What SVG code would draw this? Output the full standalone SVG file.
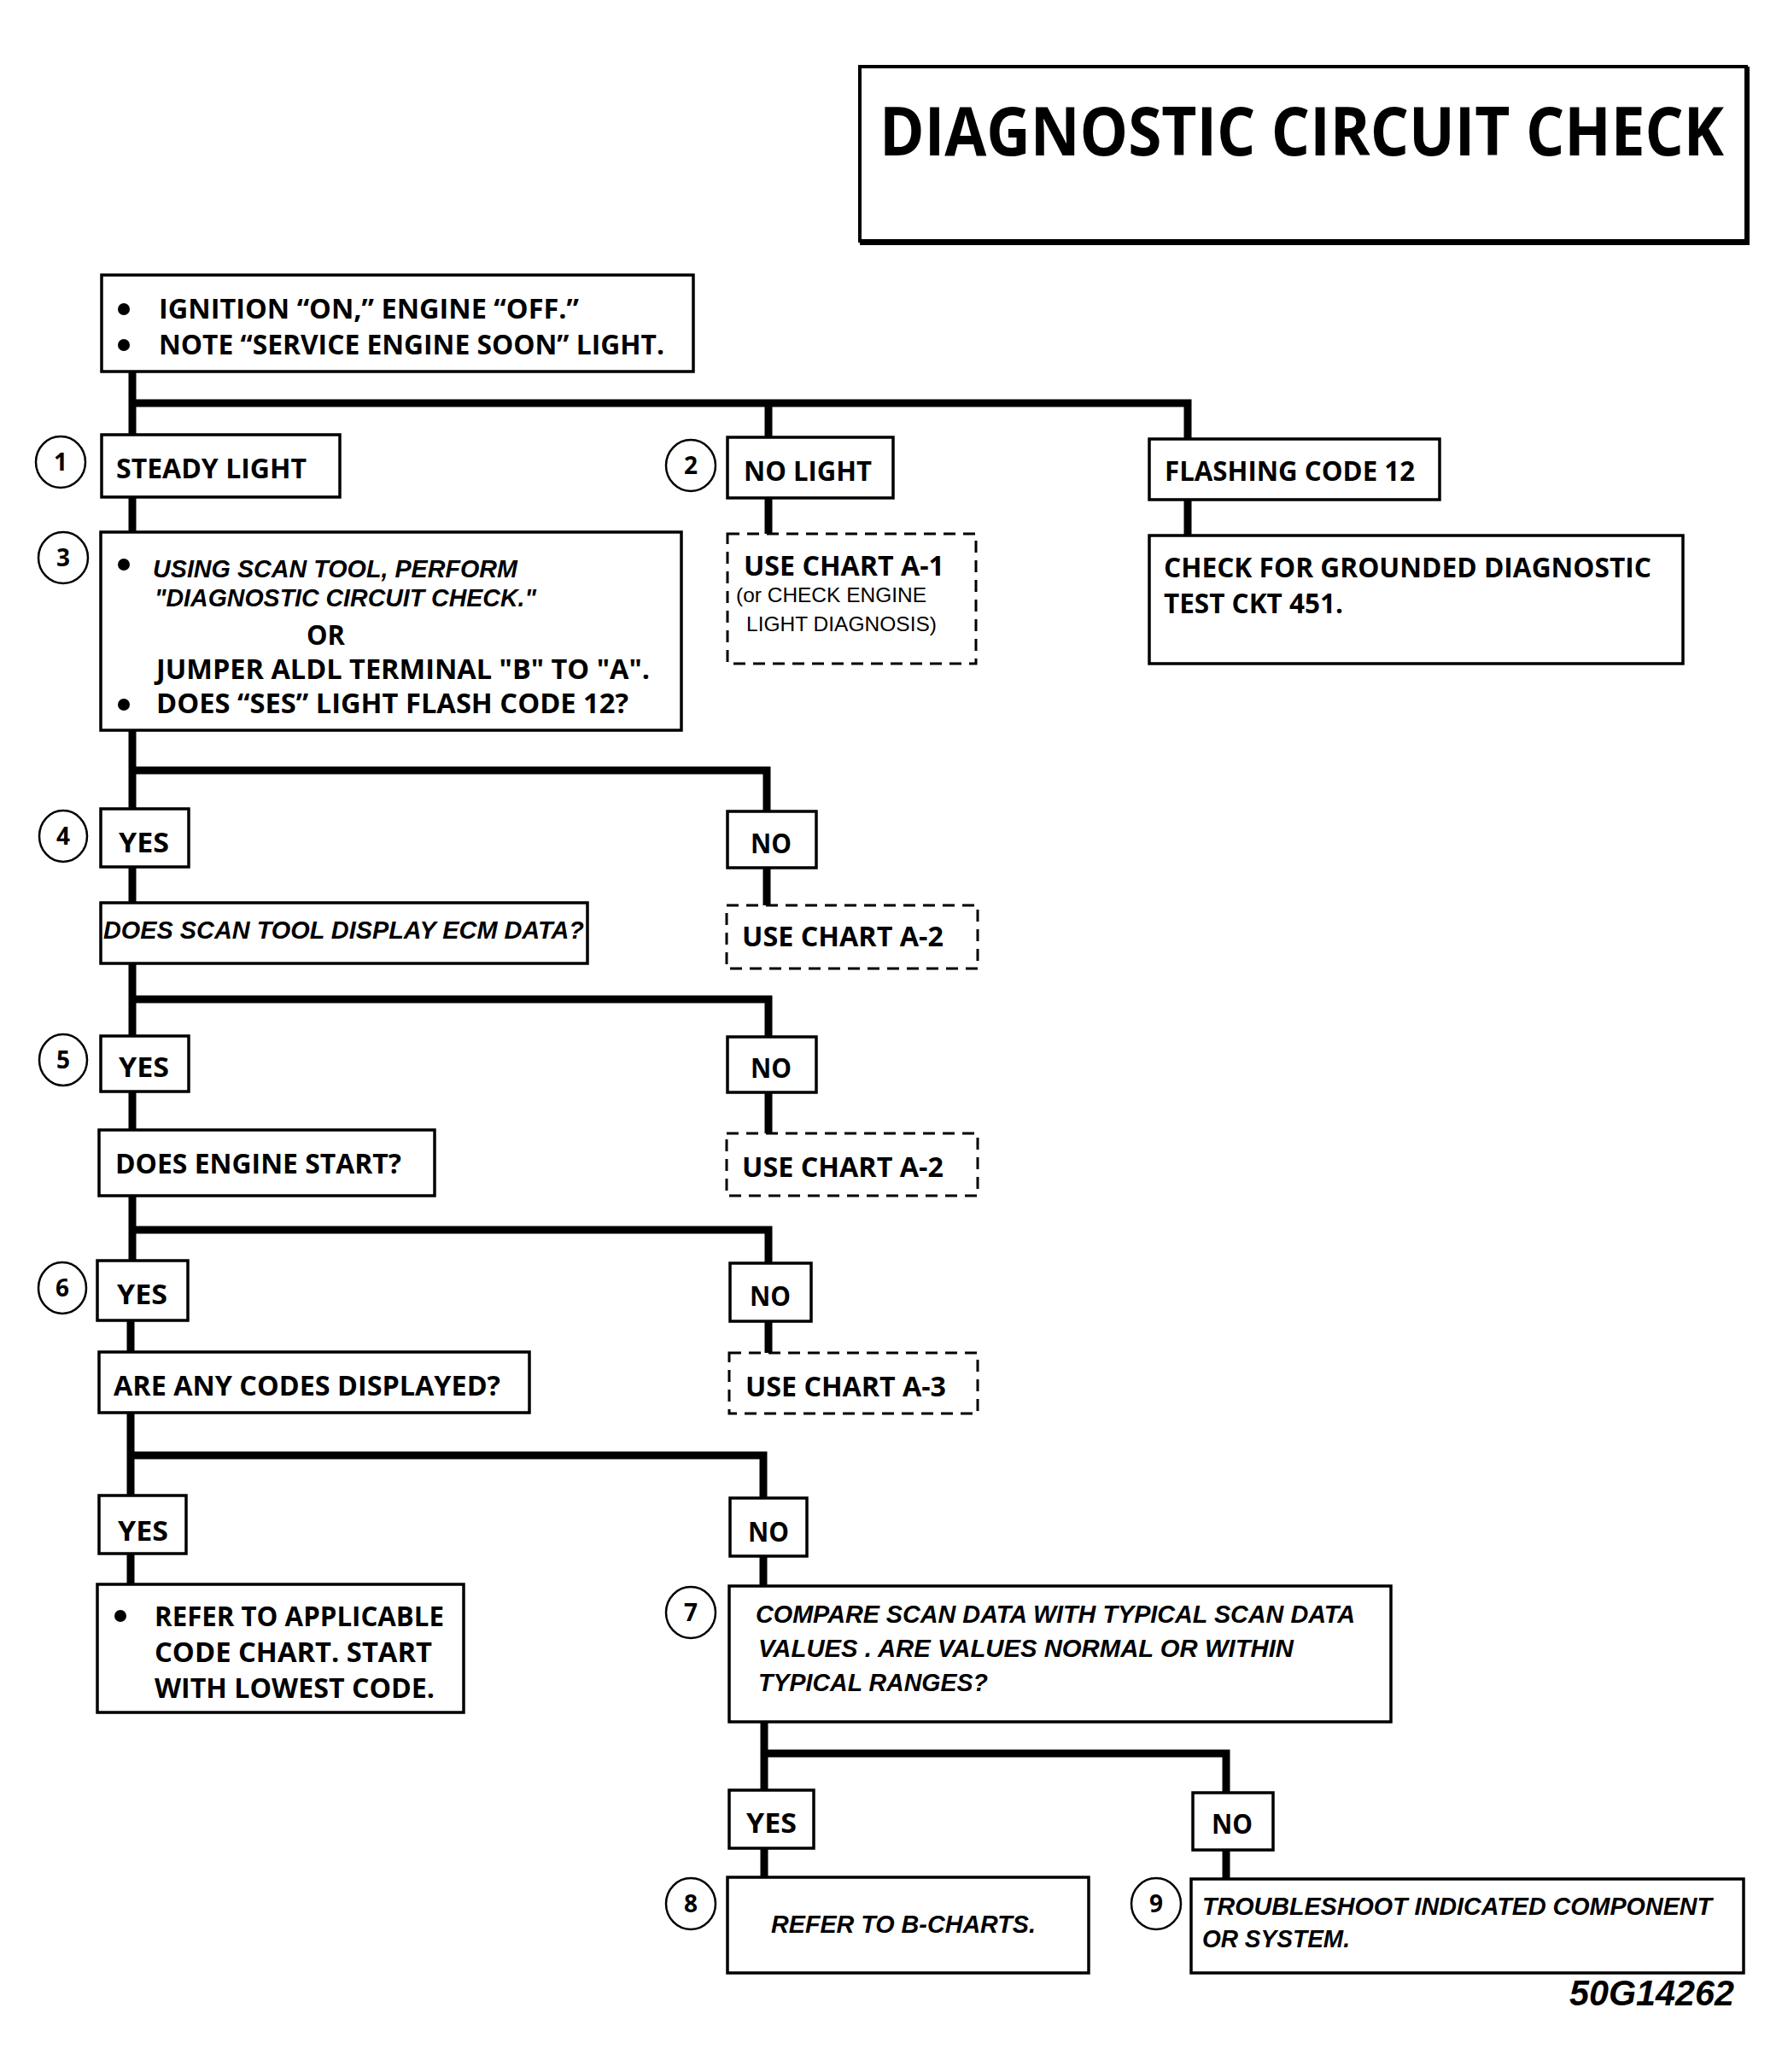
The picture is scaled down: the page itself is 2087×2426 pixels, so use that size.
<svg xmlns="http://www.w3.org/2000/svg" width="2087" height="2426" viewBox="0 0 2087 2426">
<style>
.box{fill:#fff;stroke:#000;stroke-width:3.5}
.dash{fill:#fff;stroke:#000;stroke-width:3;stroke-dasharray:14 9}
.conn{fill:none;stroke:#000;stroke-width:9;stroke-linecap:butt}
.lbl{font-family:"Open Sans","Liberation Sans",sans-serif;font-weight:bold;font-size:32px;fill:#000}
.it{font-family:"Liberation Sans",Arial,sans-serif;font-weight:bold;font-style:italic;font-size:29px;fill:#000}
.sm{font-family:"Liberation Sans",Arial,sans-serif;font-size:24px;fill:#000}
.num{font-family:"Open Sans","Liberation Sans",sans-serif;font-weight:bold;font-size:28px;fill:#000;text-anchor:middle}
.circ{fill:#fff;stroke:#000;stroke-width:2.5}
</style>
<rect width="2087" height="2426" fill="#fff"/>

<g id="title">
<rect x="1007" y="78" width="1038" height="204" fill="#fff" stroke="#000" stroke-width="4"/>
<path d="M2046,78 V284 H1007" fill="none" stroke="#000" stroke-width="6"/>
<text x="1030" y="182" font-family="Open Sans, Liberation Sans, sans-serif" font-weight="bold" font-size="78" textLength="989" lengthAdjust="spacingAndGlyphs">DIAGNOSTIC CIRCUIT CHECK</text>
</g>

<g id="connectors">
<path class="conn" d="M155,435 V509 M155,472 H1391 V514 M900,472 V512"/>
<path class="conn" d="M155,582 V623 M900,583 V625 M1391,585 V627"/>
<path class="conn" d="M155,855 V947 M155,902 H898 V950"/>
<path class="conn" d="M155,1015 V1057 M898,1016 V1060"/>
<path class="conn" d="M155,1128 V1213 M155,1170 H900 V1214"/>
<path class="conn" d="M155,1278 V1323 M900,1279 V1327"/>
<path class="conn" d="M155,1400 V1476 M155,1440 H900 V1479"/>
<path class="conn" d="M153,1546 V1583 M900,1547 V1584"/>
<path class="conn" d="M153,1654 V1751 M153,1704 H894 V1754"/>
<path class="conn" d="M153,1819 V1855 M894,1822 V1857"/>
<path class="conn" d="M895,2016 V2096 M895,2053 H1436 V2099"/>
<path class="conn" d="M895,2164 V2198 M1436,2166 V2200"/>
</g>

<g id="start">
<rect class="box" x="119" y="322" width="693" height="113"/>
<circle cx="145" cy="362" r="7"/>
<text class="lbl" x="186" y="373" textLength="492" lengthAdjust="spacingAndGlyphs">IGNITION “ON,” ENGINE  “OFF.”</text>
<circle cx="145" cy="404" r="7"/>
<text class="lbl" x="186" y="415" textLength="592" lengthAdjust="spacingAndGlyphs">NOTE “SERVICE ENGINE SOON” LIGHT.</text>
</g>

<g id="n1">
<ellipse class="circ" cx="71" cy="541" rx="29" ry="30"/>
<text class="num" x="71" y="551">1</text>
<rect class="box" x="119" y="509" width="279" height="73"/>
<text class="lbl" x="136" y="560" textLength="223" lengthAdjust="spacingAndGlyphs">STEADY LIGHT</text>
</g>

<g id="n2">
<ellipse class="circ" cx="809" cy="545" rx="29" ry="30"/>
<text class="num" x="809" y="555">2</text>
<rect class="box" x="852" y="512" width="194" height="71"/>
<text class="lbl" x="871" y="563" textLength="150" lengthAdjust="spacingAndGlyphs">NO LIGHT</text>
</g>

<g id="flashing">
<rect class="box" x="1346" y="514" width="340" height="71"/>
<text class="lbl" x="1364" y="563" textLength="293" lengthAdjust="spacingAndGlyphs">FLASHING CODE 12</text>
</g>

<g id="chartA1">
<rect class="dash" x="852" y="625" width="291" height="152"/>
<text class="lbl" x="871" y="674" textLength="235" lengthAdjust="spacingAndGlyphs">USE CHART A-1</text>
<text class="sm" x="862" y="705" textLength="223" lengthAdjust="spacingAndGlyphs">(or CHECK ENGINE</text>
<text class="sm" x="874" y="739" textLength="223" lengthAdjust="spacingAndGlyphs">LIGHT DIAGNOSIS)</text>
</g>

<g id="grounded">
<rect class="box" x="1346" y="627" width="625" height="150"/>
<text class="lbl" x="1363" y="676" textLength="571" lengthAdjust="spacingAndGlyphs">CHECK FOR GROUNDED DIAGNOSTIC</text>
<text class="lbl" x="1363" y="718" textLength="210" lengthAdjust="spacingAndGlyphs">TEST CKT 451.</text>
</g>

<g id="n3">
<ellipse class="circ" cx="74" cy="653" rx="29" ry="30"/>
<text class="num" x="74" y="663">3</text>
<rect class="box" x="118" y="623" width="680" height="232"/>
<circle cx="145" cy="661" r="7"/>
<text class="it" x="179" y="676" textLength="427" lengthAdjust="spacingAndGlyphs">USING SCAN TOOL, PERFORM</text>
<text class="it" x="181" y="710" textLength="447" lengthAdjust="spacingAndGlyphs">"DIAGNOSTIC CIRCUIT CHECK."</text>
<text class="lbl" x="359" y="755" textLength="45" lengthAdjust="spacingAndGlyphs">OR</text>
<text class="lbl" x="183" y="795" textLength="578" lengthAdjust="spacingAndGlyphs">JUMPER ALDL TERMINAL "B" TO "A".</text>
<circle cx="145" cy="825" r="7"/>
<text class="lbl" x="183" y="835" textLength="553" lengthAdjust="spacingAndGlyphs">DOES “SES” LIGHT FLASH CODE 12?</text>
</g>

<g id="n4">
<ellipse class="circ" cx="74" cy="979" rx="28" ry="30"/>
<text class="num" x="74" y="989">4</text>
<rect class="box" x="118" y="947" width="103" height="68"/>
<text class="lbl" x="139" y="998" textLength="59" lengthAdjust="spacingAndGlyphs">YES</text>
</g>
<g id="no4">
<rect class="box" x="852" y="950" width="104" height="66"/>
<text class="lbl" x="879" y="999" textLength="48" lengthAdjust="spacingAndGlyphs">NO</text>
</g>
<g id="chartA2a">
<rect class="dash" x="851" y="1060" width="294" height="74"/>
<text class="lbl" x="869" y="1108" textLength="236" lengthAdjust="spacingAndGlyphs">USE CHART A-2</text>
</g>
<g id="ecm">
<rect class="box" x="118" y="1057" width="570" height="71"/>
<text class="it" x="121" y="1099" textLength="563" lengthAdjust="spacingAndGlyphs">DOES SCAN TOOL DISPLAY ECM DATA?</text>
</g>

<g id="n5">
<ellipse class="circ" cx="74" cy="1241" rx="28" ry="30"/>
<text class="num" x="74" y="1251">5</text>
<rect class="box" x="118" y="1213" width="103" height="65"/>
<text class="lbl" x="139" y="1261" textLength="59" lengthAdjust="spacingAndGlyphs">YES</text>
</g>
<g id="no5">
<rect class="box" x="852" y="1214" width="104" height="65"/>
<text class="lbl" x="879" y="1262" textLength="48" lengthAdjust="spacingAndGlyphs">NO</text>
</g>
<g id="chartA2b">
<rect class="dash" x="851" y="1327" width="294" height="73"/>
<text class="lbl" x="869" y="1378" textLength="236" lengthAdjust="spacingAndGlyphs">USE CHART A-2</text>
</g>
<g id="start5">
<rect class="box" x="116" y="1323" width="393" height="77"/>
<text class="lbl" x="135" y="1374" textLength="335" lengthAdjust="spacingAndGlyphs">DOES ENGINE START?</text>
</g>

<g id="n6">
<ellipse class="circ" cx="73" cy="1508" rx="28" ry="30"/>
<text class="num" x="73" y="1518">6</text>
<rect class="box" x="114" y="1476" width="106" height="70"/>
<text class="lbl" x="137" y="1527" textLength="59" lengthAdjust="spacingAndGlyphs">YES</text>
</g>
<g id="no6">
<rect class="box" x="855" y="1479" width="95" height="68"/>
<text class="lbl" x="878" y="1529" textLength="48" lengthAdjust="spacingAndGlyphs">NO</text>
</g>
<g id="chartA3">
<rect class="dash" x="854" y="1584" width="291" height="71"/>
<text class="lbl" x="873" y="1635" textLength="235" lengthAdjust="spacingAndGlyphs">USE CHART A-3</text>
</g>
<g id="codes">
<rect class="box" x="116" y="1583" width="504" height="71"/>
<text class="lbl" x="133" y="1634" textLength="453" lengthAdjust="spacingAndGlyphs">ARE ANY CODES DISPLAYED?</text>
</g>

<g id="yes7">
<rect class="box" x="116" y="1751" width="102" height="68"/>
<text class="lbl" x="138" y="1804" textLength="59" lengthAdjust="spacingAndGlyphs">YES</text>
</g>
<g id="no7">
<rect class="box" x="855" y="1754" width="90" height="68"/>
<text class="lbl" x="876" y="1805" textLength="48" lengthAdjust="spacingAndGlyphs">NO</text>
</g>
<g id="refer">
<rect class="box" x="114" y="1855" width="429" height="150"/>
<circle cx="141" cy="1892" r="7"/>
<text class="lbl" x="181" y="1904" textLength="339" lengthAdjust="spacingAndGlyphs">REFER TO APPLICABLE</text>
<text class="lbl" x="181" y="1946" textLength="325" lengthAdjust="spacingAndGlyphs">CODE CHART.  START</text>
<text class="lbl" x="181" y="1988" textLength="328" lengthAdjust="spacingAndGlyphs">WITH LOWEST CODE.</text>
</g>

<g id="n7">
<ellipse class="circ" cx="809" cy="1888" rx="29" ry="30"/>
<text class="num" x="809" y="1898">7</text>
<rect class="box" x="854" y="1857" width="775" height="159"/>
<text class="it" x="885" y="1900" textLength="702" lengthAdjust="spacingAndGlyphs">COMPARE SCAN DATA WITH TYPICAL SCAN DATA</text>
<text class="it" x="888" y="1940" textLength="627" lengthAdjust="spacingAndGlyphs">VALUES .  ARE VALUES NORMAL OR WITHIN</text>
<text class="it" x="888" y="1980" textLength="269" lengthAdjust="spacingAndGlyphs">TYPICAL RANGES?</text>
</g>

<g id="yes8">
<rect class="box" x="854" y="2096" width="99" height="68"/>
<text class="lbl" x="874" y="2146" textLength="59" lengthAdjust="spacingAndGlyphs">YES</text>
</g>
<g id="no9">
<rect class="box" x="1397" y="2099" width="94" height="67"/>
<text class="lbl" x="1419" y="2147" textLength="48" lengthAdjust="spacingAndGlyphs">NO</text>
</g>

<g id="n8">
<ellipse class="circ" cx="809" cy="2229" rx="29" ry="30"/>
<text class="num" x="809" y="2239">8</text>
<rect class="box" x="852" y="2198" width="423" height="112"/>
<text class="it" x="903" y="2263" textLength="310" lengthAdjust="spacingAndGlyphs">REFER TO B-CHARTS.</text>
</g>

<g id="n9">
<ellipse class="circ" cx="1354" cy="2229" rx="29" ry="30"/>
<text class="num" x="1354" y="2239">9</text>
<rect class="box" x="1395" y="2200" width="647" height="110"/>
<text class="it" x="1408" y="2242" textLength="597" lengthAdjust="spacingAndGlyphs">TROUBLESHOOT INDICATED COMPONENT</text>
<text class="it" x="1408" y="2280" textLength="173" lengthAdjust="spacingAndGlyphs">OR SYSTEM.</text>
</g>

<text x="1838" y="2348" font-family="Liberation Sans, Arial, sans-serif" font-weight="bold" font-style="italic" font-size="42" textLength="193" lengthAdjust="spacingAndGlyphs">50G14262</text>
</svg>
